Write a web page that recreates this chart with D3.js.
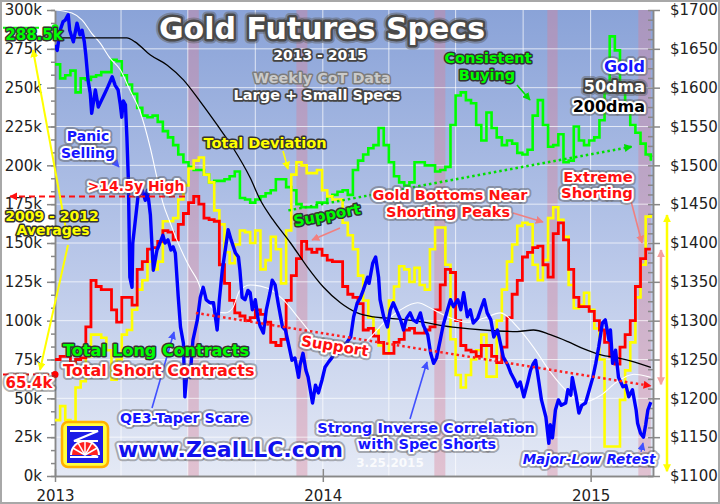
<!DOCTYPE html>
<head>
  <meta charset="utf-8">
  <script src="https://d3js.org/d3.v7.min.js"></script>
  <style>
    body { margin:0; background:#fff; }
    text { font-family: "DejaVu Sans", Verdana, sans-serif; }
  </style>
</head>
<body>
<script>
// weekly CoT, large + small specs, thousands of contracts (Tuesdays from 2013-01-01)
var cotStart = "2013-01-01";
var longs = [265,256,258,261,247,256,255,257,258,260,260,268,267,258,252,246,237,232,231,232,
  228,222,218,213,207,202,199,197,197,194,189,190,190,191,193,196,179,178,176,
  178,180,182,184,191,191,186,184,175,173,173,173,176,176,180,181,183,184,181,197,
  203,207,211,213,224,213,202,193,189,187,189,202,202,200,200,196,197,199,226,
  245,247,242,240,226,216,234,224,218,213,216,214,208,207,210,232,242,226,212,213,
  220,202,203,225,216,213,216,218,229,247,283,274,252,234,226,221,214,207,203];
var shorts = [75,77,77,73,75,76,96,126,122,120,120,107,99,115,115,110,133,138,146,147,
  151,158,157,152,162,169,176,180,175,166,165,164,136,124,113,105,103,100,102,
  107,104,99,86,84,88,113,129,140,151,146,144,146,142,139,138,138,122,117,115,
  111,94,95,90,86,79,79,86,88,94,95,92,92,94,96,107,123,133,131,
  100,84,81,80,77,84,84,77,73,83,102,117,126,141,144,147,148,136,128,156,
  163,152,133,115,109,109,106,100,94,86,77,72,83,91,100,122,140,146,146];
var deviation = [36,45,36,35,57,61,77,91,91,89,81,62,75,91,94,107,120,126,138,133,
  138,164,164,166,178,187,198,203,205,194,189,171,162,144,137,149,158,157,150,
  158,133,139,154,146,124,158,194,202,200,195,195,197,184,180,178,178,163,155,146,
  129,113,102,94,84,79,113,122,135,133,125,134,123,120,146,160,160,136,88,
  65,57,65,75,81,91,64,64,100,120,138,149,161,163,162,136,126,139,166,173,
  165,154,123,108,110,118,107,95,75,19,19,19,49,68,86,115,136,167,168];

// gold, days since 2013-01-01 and $/oz
var goldDay = [0,3,7,11,14,18,20,25,30,34,37,40,42,45,48,50,55,59,63,67,72,78,82,86,89,91,93,96,98,100,
  102,105,106,111,113,119,123,126,130,132,134,139,143,147,150,154,158,161,164,168,171,175,177,180,184,188,
  194,198,202,206,211,216,221,224,228,232,236,240,246,250,252,255,259,263,266,269,273,277,280,284,288,293,
  296,300,304,310,314,318,323,327,332,334,338,342,345,351,355,359,364,368,373,378,382,386,392,397,403,407,
  412,416,420,426,428,433,437,441,443,448,453,457,461,467,471,475,479,484,488,493,498,502,508,512,516,520,
  525,529,535,539,543,549,553,557,562,566,570,576,580,585,589,594,598,603,607,611,617,621,626,630,634,639,
  644,648,652,655,659,663,669,673,675,678,682,686,690,696,699,703,705,710,714,718,723,727,733,737,741,746,
  750,755,757,760,764,768,774,778,782,787,792,794,798,802,805,808,812];
var goldPrice = [1655,1648,1674,1685,1687,1694,1674,1659,1683,1668,1674,1659,1642,1610,1593,1567,1597,1575,1583,1591,1601,1614,1603,1597,1578,1562,1583,1578,1536,1481,
  1356,1343,1400,1442,1459,1468,1455,1468,1436,1400,1365,1391,1400,1410,1400,1404,1391,1395,1387,1330,1292,1271,1202,1236,1227,1275,
  1301,1330,1343,1327,1323,1323,1288,1327,1365,1391,1417,1404,1387,1382,1365,1330,1327,1339,1336,1314,1327,1301,1292,1284,1314,1336,
  1352,1346,1323,1292,1288,1271,1249,1252,1227,1243,1258,1236,1227,1194,1217,1207,1224,1240,1247,1253,1262,1258,1266,1271,1279,1305,
  1323,1329,1339,1356,1348,1374,1382,1356,1327,1305,1292,1314,1323,1310,1301,1288,1303,1310,1301,1298,1310,1294,1282,1258,1245,1252,
  1275,1294,1314,1327,1318,1327,1314,1336,1305,1314,1297,1303,1314,1327,1310,1301,1279,1288,1271,1253,1243,1233,1224,1215,1221,1202,
  1220,1236,1245,1249,1224,1198,1176,1142,1166,1149,1185,1198,1191,1194,1211,1204,1227,1204,1181,1191,1194,1207,1227,1245,1266,1297,
  1301,1275,1288,1245,1262,1227,1215,1217,1202,1211,1185,1168,1155,1150,1166,1185,1195];
var ma50Day = [0,23,37,50,61,75,89,102,116,130,139,147,157,166,175,184,194,202,211,221,232,242,252,266,289,311,334,357,379,403,426,448,471,494,516,535,562,584,607,630,652,675,699,720,744,767,789,812];
var ma50 = [1700,1696,1687,1670,1658,1638,1623,1597,1569,1522,1484,1452,1426,1404,1385,1368,1352,1333,1320,1311,1310,1316,1339,1346,1342,1327,1301,1275,1258,1258,1275,1297,1314,1323,1314,1305,1298,1303,1310,1292,1266,1234,1208,1195,1204,1222,1231,1227];
var ma200Day = [0,98,109,130,153,175,198,221,243,266,280,297,321,344,366,389,412,434,457,480,502,525,549,584,630,652,675,699,720,744,767,789,812];
var ma200 = [1664,1664,1659,1642,1629,1610,1582,1552,1522,1484,1455,1430,1400,1369,1343,1323,1310,1305,1303,1301,1298,1294,1291,1288,1286,1288,1282,1273,1264,1256,1252,1247,1240];

// shorting-peak bands, days since 2013-01-01
var bandDays = [[181,196],[329,344],[517,532],[671,685],[795,812]];
var leftTicks = [0,25,50,75,100,125,150,175,200,225,250,275,300];
var rightTicks = [1100,1150,1200,1250,1300,1350,1400,1450,1500,1550,1600,1650,1700];
var yearTicks = ["2013-01-01","2014-01-01","2015-01-01"];
var gridDates = ["2013-04-01","2013-07-01","2013-10-01","2014-04-01","2014-07-01","2014-10-01"];

var width = 720, height = 504;
var x0 = 55, x1 = 653, y0 = 10, y1 = 476;

var svg = d3.select("body").append("svg")
  .attr("width", width).attr("height", height);

var start = new Date(cotStart);
var day = function(d) { return d3.utcDay.offset(start, d); };
var weeks = longs.map(function(v, i) { return d3.utcDay.offset(start, 7 * i); });

var x = d3.scaleUtc().domain([start, new Date("2015-03-27")]).range([x0, x1]);
var yL = d3.scaleLinear().domain([0, 300]).range([y1, y0]);
var yR = d3.scaleLinear().domain([1100, 1700]).range([y1, y0]);

var defs = svg.append("defs");
var grad = defs.append("linearGradient").attr("id", "bg")
  .attr("x1", 0).attr("y1", 0).attr("x2", 0).attr("y2", 1);
grad.append("stop").attr("offset", "0%").attr("stop-color", "#8aa3d8");
grad.append("stop").attr("offset", "50%").attr("stop-color", "#b6c5e8");
grad.append("stop").attr("offset", "100%").attr("stop-color", "#e4e9f5");
defs.append("clipPath").attr("id", "plot").append("rect")
  .attr("x", x0).attr("y", y0).attr("width", x1 - x0).attr("height", y1 - y0);

function marker(id, color) {
  defs.append("marker").attr("id", id)
    .attr("viewBox", "0 0 10 10").attr("refX", 9).attr("refY", 5)
    .attr("markerWidth", 8).attr("markerHeight", 8)
    .attr("markerUnits", "userSpaceOnUse")
    .attr("orient", "auto-start-reverse")
    .append("path").attr("d", "M0,0L10,5L0,10z").attr("fill", color);
}
marker("aYel", "#ffff00");
marker("aRed", "#ff1010");
marker("aPink", "#f08080");
marker("aGreen", "#00e000");
marker("aBlue", "#4050ff");
marker("aPink2", "#f4a0a0");

// frame and plot background
svg.append("rect").attr("x", 1).attr("y", 1).attr("width", width - 2).attr("height", height - 2)
  .attr("fill", "#fff").attr("stroke", "#a8a8a8").attr("stroke-width", 2);
svg.append("rect").attr("x", x0).attr("y", y0).attr("width", x1 - x0).attr("height", y1 - y0)
  .attr("fill", "url(#bg)");

svg.selectAll(".band").data(bandDays).enter().append("rect")
  .attr("x", function(d) { return x(day(d[0])); })
  .attr("width", function(d) { return x(day(d[1])) - x(day(d[0])); })
  .attr("y", y0).attr("height", y1 - y0)
  .attr("fill", "rgba(220,128,150,0.38)");

svg.selectAll(".hgrid").data(leftTicks.slice(1, -1)).enter().append("line")
  .attr("x1", x0).attr("x2", x1)
  .attr("y1", function(d) { return yL(d); }).attr("y2", function(d) { return yL(d); })
  .attr("stroke", "#fff").attr("stroke-opacity", 0.7);
svg.selectAll(".vgrid").data(gridDates.concat(yearTicks.slice(1))).enter().append("line")
  .attr("x1", function(d) { return x(new Date(d)); }).attr("x2", function(d) { return x(new Date(d)); })
  .attr("y1", y0).attr("y2", y1)
  .attr("stroke", "#fff").attr("stroke-opacity", 0.7);

// axes
function styleAxis(g) {
  g.attr("font-family", "DejaVu Sans").attr("font-size", 15);
  g.selectAll("path,line").attr("stroke", "#888").attr("stroke-width", 1.5);
  g.selectAll("text").attr("fill", "#222");
}
svg.append("g").attr("transform", "translate(" + x0 + ",0)")
  .call(d3.axisLeft(yL).tickValues(d3.range(0, 301, 25 / 3)).tickSize(4).tickSizeOuter(0).tickFormat(""))
  .call(styleAxis);
svg.append("g").attr("transform", "translate(" + x0 + ",0)")
  .call(d3.axisLeft(yL).tickValues(leftTicks).tickSize(8).tickSizeOuter(0).tickPadding(5)
    .tickFormat(function(d) { return d + "k"; }))
  .call(styleAxis);
svg.append("g").attr("transform", "translate(" + x1 + ",0)")
  .call(d3.axisRight(yR).tickValues(d3.range(1100, 1701, 12.5)).tickSize(-5).tickSizeOuter(0).tickFormat(""))
  .call(styleAxis);
svg.append("g").attr("transform", "translate(" + x1 + ",0)")
  .call(d3.axisRight(yR).tickValues(rightTicks).tickSize(7).tickSizeOuter(0).tickPadding(10)
    .tickFormat(function(d) { return "$" + d; }))
  .call(styleAxis);
svg.append("g").attr("transform", "translate(0," + y1 + ")")
  .call(d3.axisBottom(x).tickValues(yearTicks.map(function(d) { return new Date(d); }))
    .tickSize(-7).tickSizeOuter(0).tickFormat(""))
  .call(styleAxis);
svg.append("g").attr("transform", "translate(0," + y1 + ")")
  .call(d3.axisBottom(x).tickValues(yearTicks.map(function(d) { return new Date(d); }))
    .tickSize(6).tickSizeOuter(0).tickPadding(8).tickFormat(d3.utcFormat("%Y")))
  .call(styleAxis);

// series
var plot = svg.append("g").attr("clip-path", "url(#plot)");
var step = d3.line().curve(d3.curveStepAfter)
  .x(function(d, i) { return x(weeks[i]); }).y(function(d) { return yL(d); });
function daily(days) {
  return d3.line().x(function(d, i) { return x(day(days[i])); }).y(function(d) { return yR(d); });
}

plot.append("path").attr("d", step(longs)).attr("fill", "none").attr("stroke", "#00ff00").attr("stroke-width", 2.6);
plot.append("path").attr("d", step(deviation)).attr("fill", "none").attr("stroke", "#ffff00").attr("stroke-width", 2.6);
plot.append("path").attr("d", step(shorts)).attr("fill", "none").attr("stroke", "#ff0000").attr("stroke-width", 2.8);
plot.append("path").attr("d", daily(ma50Day).curve(d3.curveMonotoneX)(ma50))
  .attr("fill", "none").attr("stroke", "#fff").attr("stroke-width", 1.1);
plot.append("path").attr("d", daily(ma200Day).curve(d3.curveMonotoneX)(ma200))
  .attr("fill", "none").attr("stroke", "#000").attr("stroke-width", 1.3);
plot.append("path").attr("d", daily(goldDay)(goldPrice))
  .attr("fill", "none").attr("stroke", "#0000ff").attr("stroke-width", 3.4).attr("stroke-linejoin", "round");

// annotation lines
function seg(xa, ya, xb, yb, color, w, dash, mEnd, mStart) {
  var l = svg.append("line").attr("x1", xa).attr("y1", ya).attr("x2", xb).attr("y2", yb)
    .attr("stroke", color).attr("stroke-width", w);
  if (dash) l.attr("stroke-dasharray", dash);
  if (mEnd) l.attr("marker-end", "url(#" + mEnd + ")");
  if (mStart) l.attr("marker-start", "url(#" + mStart + ")");
  return l;
}
// support trend lines
seg(x(day(192)), yL(105), x(day(812)), yL(58), "#ff2020", 2.5, "2.5,3", "aRed");
seg(x(day(318)), yL(171), x(day(786)), yL(212), "#00e000", 2.5, "2.5,3", "aGreen");
// 2009-2012 averages
seg(3, yL(288.5), x0, yL(288.5), "#00ff00", 2, "6,4");
seg(3, yL(65.4), x0, yL(65.4), "#ff0000", 2, "6,4");
svg.append("circle").attr("cx", x0).attr("cy", yL(288.5)).attr("r", 3.5).attr("fill", "#00ff00");
svg.append("circle").attr("cx", x0).attr("cy", yL(65.4)).attr("r", 3.5).attr("fill", "#ff0000");
seg(185, yL(180), 10, yL(180), "#ff1010", 2, "6,4", "aRed");
seg(68, 240, 33, 50, "#ffff00", 2, null, "aYel");
seg(68, 245, 40, 370, "#ffff00", 2, null, "aYel");
// range arrows at right
seg(661, yL(145.5), 661, yL(59), "#f4a0a0", 2.5, null, "aPink2", "aPink2");
seg(667, yL(168), 667, yL(3), "#ffff00", 2.5, null, "aYel", "aYel");
// callout arrows
seg(113, 160, 119, 167, "#4050ff", 1.2, null, "aBlue");
seg(283, 151, 288, 169, "#ffff00", 1.6, null, "aYel");
seg(517, 85, 530, 100, "#00e000", 1.6, null, "aGreen");
seg(340, 228, 312, 240, "#f08080", 1.6, null, "aPink");
seg(513, 213, 543, 222, "#f08080", 1.6, null, "aPink");
seg(631, 201, 642, 243, "#f08080", 1.6, null, "aPink");
seg(152, 408, 174, 332, "#4050ff", 1.6, null, "aBlue");
seg(410, 419, 427, 362, "#4050ff", 1.6, null, "aBlue");
seg(641, 452, 643, 443, "#4050ff", 1.2, null, "aBlue");

// Zeal logo
var logo = svg.append("g").attr("transform", "translate(62,422)");
logo.append("rect").attr("width", 46).attr("height", 45).attr("rx", 6)
  .attr("fill", "#ffff40").attr("stroke", "#ffb000").attr("stroke-width", 2.5);
logo.append("rect").attr("x", 5).attr("y", 4).attr("width", 36).attr("height", 37).attr("fill", "#1c1ce6");
logo.append("path").attr("d", "M8,9H36L12,19H36M8,35H36L12,25").attr("fill", "none")
  .attr("stroke", "#fff").attr("stroke-width", 2.2);
logo.append("path").attr("d", "M8,33A15,15 0 0 1 38,33Z").attr("fill", "#fff");
logo.append("path").attr("d", "M10,33A13,13 0 0 1 36,33Z").attr("fill", "#ff2020");
[ -60, -30, 0, 30, 60 ].forEach(function(a) {
  var r = a * Math.PI / 180;
  logo.append("line").attr("x1", 23).attr("y1", 33)
    .attr("x2", 23 + 14 * Math.sin(r)).attr("y2", 33 - 14 * Math.cos(r))
    .attr("stroke", "#fff").attr("stroke-width", 1.5);
});

// labels
function label(txt, lx, ly, o) {
  var g = svg.append("g").attr("transform", "translate(" + lx + "," + ly + ")" + (o.rot ? " rotate(" + o.rot + ")" : ""));
  function t() {
    return g.append("text").text(txt).attr("text-anchor", o.anchor || "middle")
      .attr("font-size", o.size || 14.5).attr("font-weight", "bold")
      .attr("font-style", o.italic ? "italic" : null)
      .attr("stroke-linejoin", "round").attr("paint-order", "stroke");
  }
  if (o.glow) t().attr("fill", "none").attr("stroke", "rgba(90,90,90,0.45)").attr("stroke-width", (o.hw || 3) + 4);
  var m = t().attr("fill", o.fill);
  if (o.halo) m.attr("stroke", o.halo).attr("stroke-width", o.hw || 3);
  if (o.opacity) m.attr("opacity", o.opacity);
}
var dark = "#333";
label("Gold Futures Specs", 322, 39, { size: 30, fill: "#fff", halo: "#4a4a4a", hw: 5, glow: true });
label("2013 - 2015", 320, 60, { size: 14, fill: "#fff", halo: "#444", hw: 3.5 });
label("Weekly CoT Data", 322, 83, { size: 14.4, fill: "#cacaca", halo: "#7c7c7c", hw: 3 });
label("Large + Small Specs", 317, 100, { size: 14.5, fill: "#fff", halo: "#444", hw: 3.5 });
label("Consistent", 488, 63, { fill: "#00ff00", halo: dark });
label("Buying", 487, 80, { fill: "#00ff00", halo: dark });
label("Gold", 645, 72, { anchor: "end", size: 16, fill: "#1515ff", halo: "#fff", hw: 4, glow: true });
label("50dma", 645, 92, { anchor: "end", size: 16, fill: "#fff", halo: "#444", hw: 4, glow: true });
label("200dma", 645, 112, { anchor: "end", size: 16, fill: "#000", halo: "#fff", hw: 4, glow: true });
label("Panic", 88, 141, { size: 14, fill: "#1515ff", halo: "#fff", hw: 4, glow: true });
label("Selling", 88, 158, { size: 14, fill: "#1515ff", halo: "#fff", hw: 4, glow: true });
label("Total Deviation", 265, 148, { fill: "#ffff00", halo: dark });
label(">14.5y High", 136, 191, { size: 14, fill: "#ff1010", halo: "#fff", hw: 4, glow: true });
label("2009 - 2012", 52, 221, { size: 14, fill: "#ffff00", halo: dark });
label("Averages", 53, 235, { size: 14, fill: "#ffff00", halo: dark });
label("288.5k", 34, 40, { size: 15, fill: "#00ff00", halo: dark });
label("65.4k", 29, 388, { size: 15, fill: "#ff1010", halo: "#fff", hw: 4, glow: true });
label("Gold Bottoms Near", 450, 200, { fill: "#ff1010", halo: "#fff", hw: 4, glow: true });
label("Shorting Peaks", 448, 217, { fill: "#ff1010", halo: "#fff", hw: 4, glow: true });
label("Extreme", 598, 182, { size: 14.8, fill: "#ff1010", halo: "#fff", hw: 4, glow: true });
label("Shorting", 597, 198, { size: 14.8, fill: "#ff1010", halo: "#fff", hw: 4, glow: true });
label("Support", 328, 220, { size: 15, fill: "#00ff00", halo: dark, rot: -11 });
label("Support", 334, 351, { size: 15, fill: "#ff1010", halo: "#fff", hw: 4, glow: true, rot: 9 });
label("Total Long Contracts", 63, 356, { anchor: "start", size: 16, fill: "#00ff00", halo: dark });
label("Total Short Contracts", 63, 376, { anchor: "start", size: 16, fill: "#ff1010", halo: "#fff", hw: 4, glow: true });
label("QE3-Taper Scare", 120, 423, { anchor: "start", size: 14.2, fill: "#1515ff", halo: "#fff", hw: 4, glow: true });
label("www.ZealLLC.com", 118, 457, { anchor: "start", size: 22, fill: "#1010ee", halo: "#fff", hw: 4.5, glow: true });
label("Strong Inverse Correlation", 426, 433, { fill: "#1515ff", halo: "#fff", hw: 4, glow: true });
label("with Spec Shorts", 427, 449, { fill: "#1515ff", halo: "#fff", hw: 4, glow: true });
label("3.25.2015", 390, 467, { size: 12, fill: "#fff", opacity: 0.85 });
label("Major-Low Retest", 589, 464, { size: 13.5, italic: true, fill: "#1515ff", halo: "#fff", hw: 4, glow: true });
</script>
</body>
